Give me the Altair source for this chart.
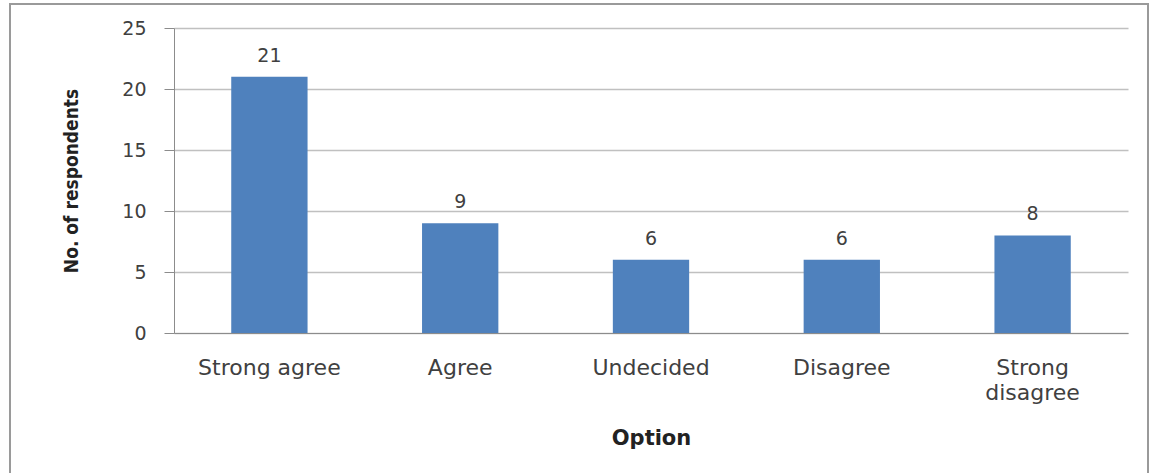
import altair as alt
import pandas as pd

options = ["Strong agree", "Agree", "Undecided", "Disagree", "Strong disagree"]
counts = [21, 9, 6, 6, 8]

df = pd.DataFrame({"Option": options, "Count": counts})

W, H = 954, 305
PL, PT = 174, 28

x = alt.X("Option:N", sort=options, title="Option",
          scale=alt.Scale(paddingInner=0.6, paddingOuter=0.3),
          axis=alt.Axis(labelAngle=0, ticks=False, labelPadding=24,
                        labelFontSize=22, labelColor="#404040",
                        labelFont="DejaVu Sans",
                        labelExpr="datum.value == 'Strong disagree' ? ['Strong', 'disagree'] : datum.value",
                        labelLineHeight=25,
                        titleFont="DejaVu Sans", titleFontSize=21, titleFontWeight="bold",
                        titleColor="#222222", titlePadding=24,
                        domainColor="#8c8c8c", grid=False))
y = alt.Y("Count:Q", title="No. of respondents",
          scale=alt.Scale(domain=[0, 25], nice=False),
          axis=alt.Axis(values=[0, 5, 10, 15, 20, 25], tickSize=10, tickColor="#8c8c8c",
                        labelPadding=18, labelFontSize=19, labelColor="#404040",
                        labelFont="DejaVu Sans",
                        titleFont="DejaVu Sans Condensed", titleFontSize=19,
                        titleFontWeight="bold", titleColor="#222222", titlePadding=40,
                        domainColor="#8c8c8c", gridColor="#c0c0c0", gridWidth=1.5))

bars = alt.Chart(df).mark_bar(color="#4F81BD").encode(x=x, y=y)
text = alt.Chart(df).mark_text(dy=-21, fontSize=19, font="DejaVu Sans", color="#404040").encode(
    x=alt.X("Option:N", sort=options), y="Count:Q", text="Count:Q")

frame = alt.Chart(df).mark_rect(fill=None, stroke="#9a9a9a", strokeWidth=2).encode(
    x=alt.value(10 - PL), x2=alt.value(1148 - PL), y=alt.value(4 - PT), y2=alt.value(480 - PT))

chart = alt.layer(frame, bars, text).properties(
    width=W, height=H,
    autosize=alt.AutoSizeParams(type="none"),
    padding={"left": PL, "top": PT, "right": 1154 - PL - W, "bottom": 473 - PT - H},
    background="white",
).configure_view(stroke=None)

chart.save("out.html", embed_options={"renderer": "svg", "actions": False})
